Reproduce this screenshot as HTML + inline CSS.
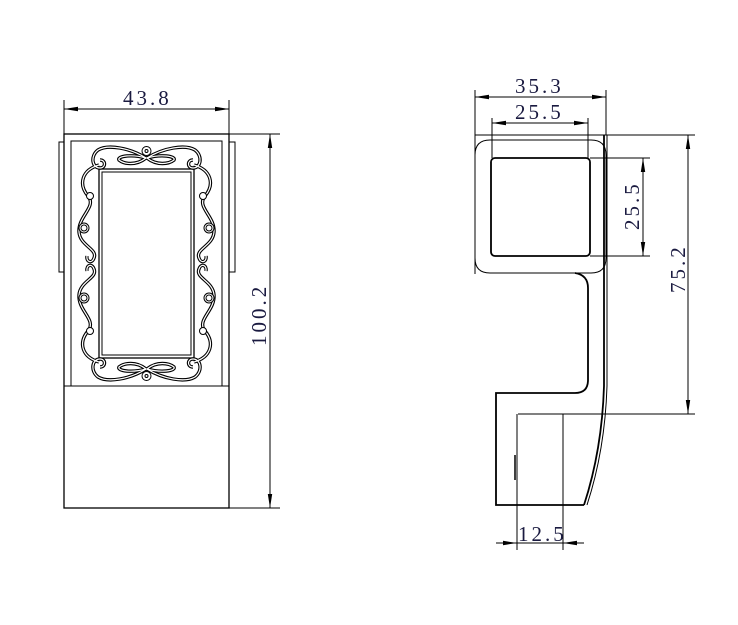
<!DOCTYPE html>
<html><head><meta charset="utf-8"><style>
html,body{margin:0;padding:0;background:#fff}
svg{display:block}
</style></head><body>
<svg width="738" height="625" viewBox="0 0 738 625" xmlns="http://www.w3.org/2000/svg">
<defs>
<marker id="a" markerWidth="14" markerHeight="6" refX="14" refY="3" orient="auto-start-reverse" markerUnits="userSpaceOnUse">
<path d="M0,0.8 L14,3 L0,5.2 Z" fill="#000"/></marker>
<g id="orn">
<path d="M146,158 C130,148 108,144 98,150 C90,156 92,168 100,168 C106,168 106,160 100,160" />
<path d="M99,165 C82,170 78,184 88,196 C97,207 78,216 79,232 C80,246 98,249 94,258 C92,264 86,262 87,256" />
<path d="M146,158 C136,166 124,164 119,160 C117,156 132,154 146,158 Z" />
</g>
</defs>
<g fill="none" stroke="#000" stroke-width="1">
<rect x="64" y="134" width="165" height="374" stroke-width="1.3"/>
<rect x="71" y="141" width="151" height="245"/>
<line x1="64" y1="386" x2="229" y2="386"/>
<rect x="59" y="142" width="5" height="130"/>
<rect x="229" y="142" width="6" height="130"/>
<rect x="99" y="169" width="95" height="189" stroke-width="1.3"/>
<rect x="102" y="172" width="89" height="183"/>
<g stroke-width="3.4"><use href="#orn"/><use href="#orn" transform="translate(293,0) scale(-1,1)"/><use href="#orn" transform="translate(0,527) scale(1,-1)"/><use href="#orn" transform="translate(293,527) scale(-1,-1)"/></g>
<g stroke="#fff" stroke-width="1.2"><use href="#orn"/><use href="#orn" transform="translate(293,0) scale(-1,1)"/><use href="#orn" transform="translate(0,527) scale(1,-1)"/><use href="#orn" transform="translate(293,527) scale(-1,-1)"/></g>
<g fill="#fff">
<circle cx="146.5" cy="151" r="4.5"/>
<circle cx="146.5" cy="376" r="4.5"/>
<circle cx="90" cy="196" r="3.5"/><circle cx="203" cy="196" r="3.5"/>
<circle cx="90" cy="331" r="3.5"/><circle cx="203" cy="331" r="3.5"/>
<circle cx="84" cy="228" r="5"/><circle cx="209" cy="228" r="5"/>
<circle cx="84" cy="298" r="5"/><circle cx="209" cy="298" r="5"/>
</g>
<circle cx="146.5" cy="151" r="1.5"/><circle cx="146.5" cy="376" r="1.5"/>
<circle cx="84" cy="228" r="3"/><circle cx="209" cy="228" r="3"/>
<circle cx="84" cy="298" r="3"/><circle cx="209" cy="298" r="3"/>
<line x1="64" y1="100" x2="64" y2="134"/><line x1="229" y1="100" x2="229" y2="134"/>
<line x1="64" y1="109" x2="229" y2="109" marker-start="url(#a)" marker-end="url(#a)"/>
<line x1="229" y1="134" x2="280" y2="134"/><line x1="229" y1="508" x2="280" y2="508"/>
<line x1="270" y1="134" x2="270" y2="508" marker-start="url(#a)" marker-end="url(#a)"/>

<line x1="475" y1="135" x2="695" y2="135"/>
<line x1="475" y1="90" x2="475" y2="274"/>
<line x1="606" y1="90" x2="606" y2="135"/>
<path d="M490,140 H591 Q606,140 606,155 V258 Q606,273 591,273 H490 Q475,273 475,258 V155 Q475,140 490,140 Z"/>
<rect x="491" y="158" width="99" height="98" rx="4" stroke-width="1.8"/>
<line x1="492" y1="118" x2="492" y2="158"/><line x1="588" y1="118" x2="588" y2="158"/>
<line x1="475" y1="97" x2="606" y2="97" marker-start="url(#a)" marker-end="url(#a)"/>
<line x1="492" y1="123" x2="588" y2="123" marker-start="url(#a)" marker-end="url(#a)"/>
<line x1="590" y1="158" x2="650" y2="158"/><line x1="590" y1="256" x2="650" y2="256"/>
<line x1="643" y1="158" x2="643" y2="256" marker-start="url(#a)" marker-end="url(#a)"/>
<line x1="688" y1="135" x2="688" y2="414" marker-start="url(#a)" marker-end="url(#a)"/>
<path d="M575,273 Q588,275 588,288 V380 Q588,393 575,393 H496 V505 H584" stroke-width="1.8"/>
<path d="M604,135 V386 Q602,450 584,505" stroke-width="1.8"/>
<path d="M607,135 V386 Q605,450 587,505"/>
<line x1="518" y1="414" x2="695" y2="414"/>
<line x1="517" y1="414" x2="517" y2="550"/><line x1="563" y1="414" x2="563" y2="550"/>
<line x1="515" y1="455" x2="515" y2="480" stroke-width="1.5"/>
<line x1="496" y1="543" x2="517" y2="543" marker-end="url(#a)"/>
<line x1="584" y1="543" x2="563" y2="543" marker-end="url(#a)"/>
<line x1="517" y1="543" x2="563" y2="543"/>
</g>
<g font-family="Liberation Serif, serif" font-size="21" fill="#1a1a40" letter-spacing="3">
<text x="123" y="105">43.8</text>
<text x="515" y="93">35.3</text>
<text x="515" y="119">25.5</text>
<text x="518" y="541">12.5</text>
<text transform="translate(266,346) rotate(-90)">100.2</text>
<text transform="translate(639,230) rotate(-90)">25.5</text>
<text transform="translate(685,293) rotate(-90)">75.2</text>
</g>
</svg>
</body></html>
